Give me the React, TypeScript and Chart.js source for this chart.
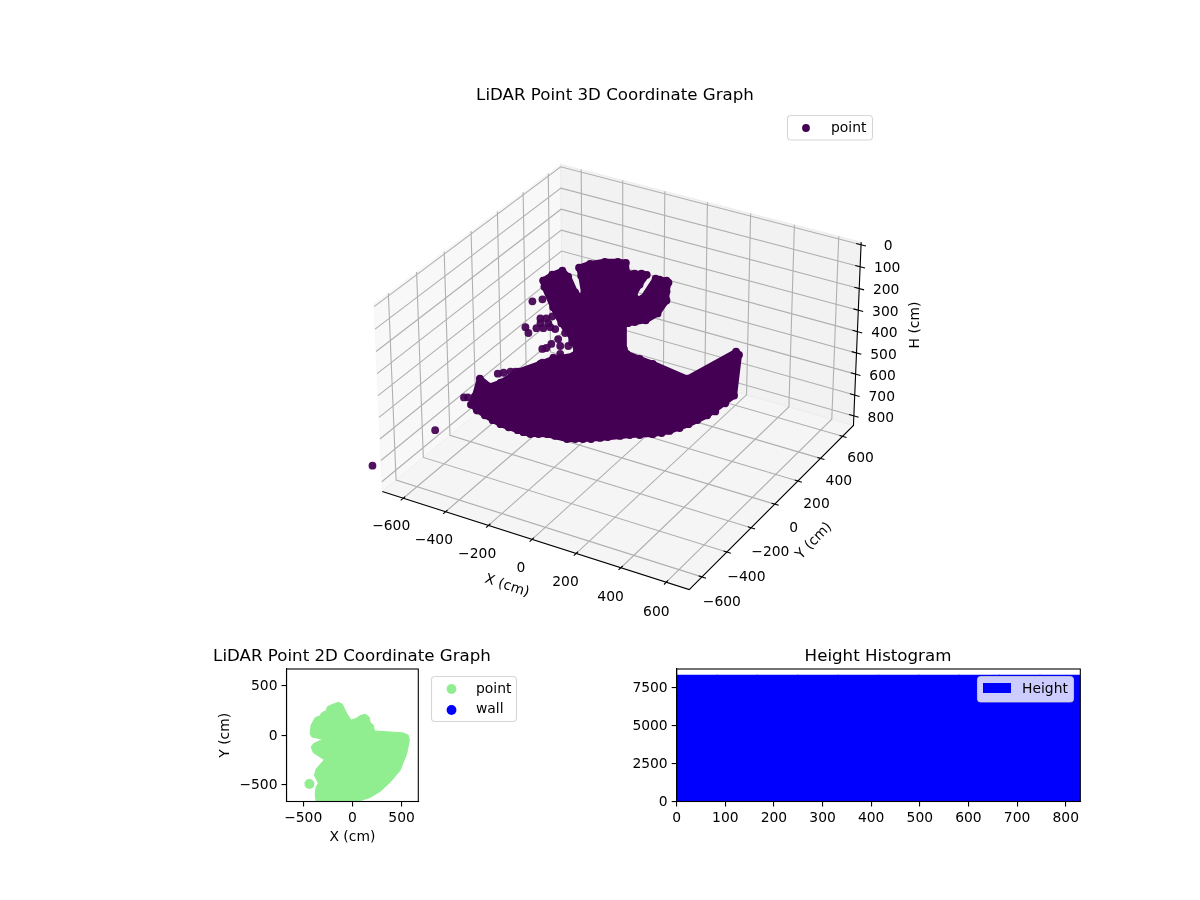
import React, { useEffect, useRef } from "react";
import { Chart, registerables } from "chart.js";

Chart.register(...registerables);

const FONT = "'DejaVu Sans'";
const TICK_SIZE = 13.89;
const TITLE_SIZE = 16.67;
const MINUS = "\u2212";

// ---------- 3D panel data ----------
const title3D = "LiDAR Point 3D Coordinate Graph";
const xTicks3D = [-600, -400, -200, 0, 200, 400, 600];
const yTicks3D = [-600, -400, -200, 0, 200, 400, 600];
const hTicks3D = [0, 100, 200, 300, 400, 500, 600, 700, 800];
const axisLimit = 700;
const hTop = -12;
const hBottom = 846;

// outer shell of the dense scan cloud (cm)
const shellX = [-358,-333,-302,-276,-236,-209,-204,-232,-247,-213,-164,-119,-90,-77,-49,-25,-6,-21,-31,-16,4,29,43,68,77,79,88,70,36,0,-23,-37,-11,4,54,104,239,380,393,417,344,288,229,174,96,-4,-62,-117,-190,-249,-297,-362,-425,-484,-479,-479,-437,-403,-352,-285,-245,-222,-179,-171,-201,-253,-297,-348];
const shellY = [-7,21,48,49,36,37,52,77,86,115,148,174,188,173,187,201,209,178,149,147,160,220,227,239,239,220,204,164,128,103,88,80,35,32,49,67,110,254,255,174,86,33,-16,-55,-103,-167,-203,-235,-266,-299,-318,-342,-358,-367,-345,-304,-298,-270,-215,-158,-123,-108,-78,-62,-49,-45,-34,-16];
const shellH = [118,98,84,104,159,180,163,101,73,60,53,53,56,91,94,94,98,132,166,183,180,111,115,118,125,156,187,232,256,262,266,266,355,372,390,407,458,365,376,517,585,616,640,651,654,664,668,668,651,651,637,616,585,548,520,458,486,472,434,407,390,386,379,362,317,266,211,139];

// lowest scan row
const rowX = [-458,-393,-331,-275,-221,-161,-89,-34,22,63,130,204,261,315,368,394];
const rowY = [-365,-351,-331,-310,-283,-253,-219,-187,-150,-124,-83,-36,9,58,109,143];
const rowH = [568,602,627,644,651,657,668,668,661,657,654,647,630,602,572,544];

// isolated returns
const strayX = [-515,-502,-422,-403,-380,-363,-375,-342,-330,-310,-291,-325,-298,-373,-357,-334,-310,-287,-268,-248,-230,-293,-280,-267,-234,-206,-197,-226,-246,-279,-582,-763];
const strayY = [-369,-361,-260,-246,-231,-221,-65,-42,-79,-67,-51,-87,-71,-124,-128,-104,-90,-74,-68,-79,-55,-128,-118,-101,-87,-71,-56,-101,-121,-152,-483,-670];
const strayH = [523,523,441,438,434,434,190,183,249,249,242,266,266,280,300,283,283,280,286,321,300,355,352,338,345,345,331,372,386,403,637,760];

// ---------- 2D panel data ----------
const title2D = "LiDAR Point 2D Coordinate Graph";
const pointOutlineX = [-369,-379,-369,-346,-386,-369,-285,-396,-420,-396,-302,-413,-430,-420,-379,-329,-312,-268,-254,-200,-142,-102,-58,-14,37,78,129,173,180,213,224,518,569,579,552,484,383,281,180,44];
const pointOutlineY = [-673,-595,-527,-483,-408,-340,-248,-177,-119,-85,-41,-17,17,102,177,197,228,248,289,313,333,313,221,153,170,197,214,180,129,102,44,24,0,-51,-187,-357,-476,-568,-629,-673];
const isolatedX = [-437];
const isolatedY = [-493];
const wallX: number[] = [];
const wallY: number[] = [];
const ticks2D = [-500, 0, 500];
const limit2D = 670;

// ---------- Histogram data ----------
const titleHist = "Height Histogram";
const binCentres = [41.5, 124.5, 207.5, 290.5, 373.5, 456.5, 539.5, 622.5, 705.5, 788.5];
const binCounts = [8330, 8330, 8330, 8330, 8330, 8330, 8330, 8330, 8330, 8330];
const histXTicks = [0, 100, 200, 300, 400, 500, 600, 700, 800];
const histYTicks = [0, 2500, 5000, 7500];
const histXMax = 830;
const histYMax = 8708;

// ---------- Projection (elev 30, azim -60, perspective) ----------
const HALF_XY = 0.6536;
const HALF_Z = 0.4;
const VIEW_DIST = 12;
const VIEW_SCALE = 270;
const VIEW_CX = 622;
const VIEW_CY = 366;

function project(X: number, Y: number, H: number) {
  const x = (X / axisLimit) * HALF_XY;
  const y = (Y / axisLimit) * HALF_XY;
  const z = HALF_Z - ((H - hTop) / (hBottom - hTop)) * 2 * HALF_Z;
  const u = 0.866 * x + 0.5 * y;
  const v = -0.25 * x + 0.433 * y + 0.866 * z;
  const w = 0.433 * x - 0.75 * y + 0.5 * z;
  const f = VIEW_DIST / (VIEW_DIST - w);
  return { x: VIEW_CX + VIEW_SCALE * f * u, y: VIEW_CY - VIEW_SCALE * f * v };
}

const GAP = { x: NaN, y: NaN };
const L = axisLimit;

function segs(list: number[][][]) {
  const out: { x: number; y: number }[] = [];
  list.forEach((s) => {
    s.forEach((p) => out.push(project(p[0], p[1], p[2])));
    out.push(GAP);
  });
  return out;
}
const poly = (pts: number[][]) => [...pts, pts[0]].map((p) => project(p[0], p[1], p[2]));

function gridSegments() {
  const s: number[][][] = [];
  xTicks3D.forEach((t) => {
    s.push([[t, -L, hBottom], [t, L, hBottom], [t, L, hTop]]);
  });
  yTicks3D.forEach((t) => {
    s.push([[L, t, hBottom], [-L, t, hBottom], [-L, t, hTop]]);
  });
  hTicks3D.forEach((t) => {
    s.push([[-L, -L, t], [-L, L, t], [L, L, t]]);
  });
  return s;
}
function tickSegments() {
  const s: number[][][] = [];
  xTicks3D.forEach((t) => s.push([[t, -L - 18, hBottom], [t, -L + 14, hBottom]]));
  yTicks3D.forEach((t) => s.push([[L + 18, t, hBottom], [L - 14, t, hBottom]]));
  hTicks3D.forEach((t) => s.push([[L - 22, L, t], [L + 22, L, t]]));
  return s;
}
const SOLID = [100000, 1];
const lineDs = (data: any[], color: string, width: number, order: number) => ({
  data, showLine: true, spanGaps: false, borderColor: color, borderWidth: width, borderDash: SOLID,
  pointRadius: 0, order, fill: false,
});
const paneDs = (pts: number[][], fillC: string, order: number) => ({
  data: poly(pts), showLine: true, borderColor: fillC, borderWidth: 1, borderDash: SOLID,
  backgroundColor: fillC, fill: "shape", pointRadius: 0, order,
});

function txt(ctx: CanvasRenderingContext2D, s: string, x: number, y: number, size = TICK_SIZE, rot = 0, align: CanvasTextAlign = "center") {
  ctx.save();
  ctx.translate(x, y + 1);
  ctx.rotate((rot * Math.PI) / 180);
  ctx.font = `${size}px ${FONT}`;
  ctx.fillStyle = "#000";
  ctx.textAlign = align;
  ctx.textBaseline = "middle";
  ctx.fillText(s, 0, 0);
  ctx.restore();
}
function legendFrame(ctx: CanvasRenderingContext2D, x: number, y: number, w: number, h: number) {
  ctx.save();
  ctx.beginPath();
  ctx.roundRect(x, y, w, h, 3.5);
  ctx.fillStyle = "rgba(255,255,255,0.8)";
  ctx.fill();
  ctx.strokeStyle = "rgba(204,204,204,0.8)";
  ctx.lineWidth = 1.1;
  ctx.stroke();
  ctx.restore();
}
function dot(ctx: CanvasRenderingContext2D, x: number, y: number, r: number, c: string) {
  ctx.save();
  ctx.beginPath();
  ctx.arc(x, y, r, 0, Math.PI * 2);
  ctx.fillStyle = c;
  ctx.fill();
  ctx.restore();
}
const fmt = (v: any) => String(v).replace("-", MINUS);

const labels3D = {
  id: "labels3D",
  afterDatasetsDraw(chart: any) {
    const c = chart.ctx;
    const sx = chart.scales.x, sy = chart.scales.y;
    const at = (X: number, Y: number, H: number) => {
      const p = project(X, Y, H);
      return { x: sx.getPixelForValue(p.x), y: sy.getPixelForValue(p.y) };
    };
    xTicks3D.forEach((t) => { const p = at(t, -L, hBottom); const k = t / 600; txt(c, fmt(t), p.x - 11 + k, p.y + 28 + k); });
    yTicks3D.forEach((t) => { const p = at(L, t, hBottom); const k = t / 600; txt(c, fmt(t), p.x + 19 - k, p.y + 23 - 2 * k); });
    hTicks3D.forEach((t) => { const p = at(L, L, t); txt(c, fmt(t), p.x + 27, p.y + 1); });
    txt(c, "X (cm)", 507, 585, TICK_SIZE, 18);
    txt(c, "Y (cm)", 814, 540, TICK_SIZE, -46);
    txt(c, "H (cm)", 915, 324, TICK_SIZE, -90);
    txt(c, title3D, 615, 95, TITLE_SIZE);
    legendFrame(c, 787.5, 115.5, 85, 24.5);
    dot(c, 806, 128, 3.9, "#440154");
    txt(c, "point", 831, 127, TICK_SIZE, 0, "left");
  },
};

const frame = {
  id: "frame",
  afterDatasetsDraw(chart: any) {
    const { left, top, width, height } = chart.chartArea;
    const c = chart.ctx;
    c.save();
    c.strokeStyle = "#000";
    c.lineWidth = 1.1;
    c.strokeRect(left, top, width, height);
    c.restore();
  },
};

const legend2D = {
  id: "legend2D",
  afterDraw(chart: any) {
    const c = chart.ctx;
    const ox = 184, oy = 640;
    txt(c, title2D, 352 - ox, 656 - oy, TITLE_SIZE);
    legendFrame(c, 431.5 - ox, 676.5 - oy, 85, 45);
    dot(c, 451.5 - ox, 689 - oy, 4.9, "#90ee90");
    dot(c, 451.5 - ox, 710 - oy, 4.9, "#0000ff");
    txt(c, "point", 476 - ox, 688 - oy, TICK_SIZE, 0, "left");
    txt(c, "wall", 476 - ox, 708.5 - oy, TICK_SIZE, 0, "left");
  },
};
const legendHist = {
  id: "legendHist",
  afterDraw(chart: any) {
    const c = chart.ctx;
    const ox = 620, oy = 640;
    txt(c, titleHist, 878 - ox, 656 - oy, TITLE_SIZE);
    legendFrame(c, 977.5 - ox, 676.5 - oy, 96, 25.5);
    c.fillStyle = "#0000ff";
    c.fillRect(983 - ox, 683 - oy, 28, 10);
    txt(c, "Height", 1022 - ox, 688 - oy, TICK_SIZE, 0, "left");
  },
};

const axisCommon = (vertical: boolean, min: number, max: number, tickValues: number[], fixed: (s: any) => void, titleText?: string, titlePad?: any) => ({
  type: "linear",
  min, max,
  afterFit: fixed,
  afterBuildTicks: (s: any) => { s.ticks = tickValues.map((value) => ({ value })); },
  border: { display: true, color: "#000", width: 1.1 },
  grid: { drawOnChartArea: false, drawTicks: true, tickLength: 5, color: "#000", lineWidth: 1.1, offset: false },
  ticks: {
    autoSkip: false, maxRotation: 0, minRotation: 0,
    padding: 4, labelOffset: vertical ? 1 : 0, color: "#000", font: { family: FONT, size: TICK_SIZE },
    callback: (v: any) => fmt(v),
  },
  title: titleText
    ? { display: true, text: titleText, color: "#000", font: { family: FONT, size: TICK_SIZE }, padding: titlePad }
    : { display: false },
});

export default function App() {
  const main = useRef<HTMLCanvasElement>(null);
  const two = useRef<HTMLCanvasElement>(null);
  const hist = useRef<HTMLCanvasElement>(null);

  useEffect(() => {
    const zip3 = (a: number[], b: number[], c: number[]) => a.map((v, i) => project(v, b[i], c[i]));
    const shell = zip3(shellX, shellY, shellH);
    const purple = "#440154";
    const c1 = new Chart(main.current!, {
      type: "scatter",
      data: {
        datasets: [
          paneDs([[-L, -L, hBottom], [-L, L, hBottom], [-L, L, hTop], [-L, -L, hTop]], "rgba(242,242,242,0.5)", 100),
          paneDs([[-L, L, hBottom], [L, L, hBottom], [L, L, hTop], [-L, L, hTop]], "rgba(230,230,230,0.5)", 99),
          paneDs([[-L, -L, hBottom], [L, -L, hBottom], [L, L, hBottom], [-L, L, hBottom]], "rgba(236,236,236,0.5)", 98),
          lineDs(segs(gridSegments()), "#b0b0b0", 1.1, 90),
          lineDs(segs(tickSegments()), "#000", 1.1, 80),
          lineDs(segs([[[-L, -L, hBottom], [L, -L, hBottom], [L, L, hBottom], [L, L, hTop]]]), "#000", 1.1, 79),
          {
            label: "point", data: [...shell, shell[0]], showLine: true, spanGaps: false,
            borderColor: purple, borderWidth: 6, borderJoinStyle: "round", borderDash: SOLID,
            backgroundColor: purple, fill: "shape",
            pointRadius: 3.9, pointBackgroundColor: purple, pointBorderWidth: 0, order: 10,
          },
          {
            label: "row", data: zip3(rowX, rowY, rowH),
            pointRadius: 3.9, backgroundColor: purple, pointBorderWidth: 0, order: 9,
          },
          {
            label: "stray", data: zip3(strayX, strayY, strayH),
            pointRadius: 3.9, backgroundColor: "rgba(68,1,84,0.93)", pointBorderWidth: 0, order: 8,
          },
        ] as any,
      },
      options: {
        animation: false, responsive: false, devicePixelRatio: 1, events: [],
        layout: { padding: 0 },
        scales: {
          x: { type: "linear", display: false, min: 0, max: 1200 },
          y: { type: "linear", display: false, min: 0, max: 900, reverse: true },
        },
        plugins: { legend: { display: false }, tooltip: { enabled: false } },
      },
      plugins: [labels3D],
    } as any);

    const green = "#90ee90";
    const outline = pointOutlineX.map((x, i) => ({ x, y: pointOutlineY[i] }));
    const c2 = new Chart(two.current!, {
      type: "scatter",
      data: {
        datasets: [
          {
            label: "point", data: [...outline, outline[0]], showLine: true, borderDash: SOLID,
            borderColor: green, borderWidth: 1, backgroundColor: green, fill: "shape", pointRadius: 0, order: 3,
          },
          {
            label: "point", data: isolatedX.map((x, i) => ({ x, y: isolatedY[i] })),
            pointRadius: 5, backgroundColor: green, pointBorderWidth: 0, order: 2,
          },
          {
            label: "wall", data: wallX.map((x, i) => ({ x, y: wallY[i] })),
            pointRadius: 5, backgroundColor: "#0000ff", order: 1,
          },
        ] as any,
      },
      options: {
        animation: false, responsive: false, devicePixelRatio: 1, events: [],
        layout: { padding: { left: 31.5, right: 101.7, top: 29, bottom: 0 } },
        scales: {
          x: axisCommon(false, -limit2D, limit2D, ticks2D, (s) => { s.height = 48.5; }, "X (cm)", { top: 0, bottom: 4.7 }),
          y: axisCommon(true, -limit2D, limit2D, ticks2D, (s) => { s.width = 71; }, "Y (cm)", { top: 2, bottom: 0 }),
        },
        plugins: { legend: { display: false }, tooltip: { enabled: false } },
      },
      plugins: [frame, legend2D],
    } as any);

    const c3 = new Chart(hist.current!, {
      type: "bar",
      data: {
        datasets: [
          {
            label: "Height", data: binCentres.map((x, i) => ({ x, y: binCounts[i] })),
            backgroundColor: "#0000ff", borderWidth: 0,
            categoryPercentage: 1, barPercentage: 1.03,
          },
        ] as any,
      },
      options: {
        animation: false, responsive: false, devicePixelRatio: 1, events: [],
        layout: { padding: { left: 6.7, right: 56.7, top: 29, bottom: 0 } },
        scales: {
          x: { ...axisCommon(false, 0, histXMax, histXTicks, (s) => { s.height = 28.5; }), offset: false },
          y: axisCommon(true, 0, histYMax, histYTicks, (s) => { s.width = 50; }),
        },
        plugins: { legend: { display: false }, tooltip: { enabled: false } },
      },
      plugins: [frame, legendHist],
    } as any);

    return () => { c1.destroy(); c2.destroy(); c3.destroy(); };
  }, []);

  const abs = (left: number, top: number): React.CSSProperties => ({ position: "absolute", left, top, display: "block" });
  return (
    <div style={{ position: "absolute", left: 0, top: 0, width: 1200, height: 900, background: "#fff" }}>
      <canvas ref={main} width={1200} height={900} style={abs(0, 0)} />
      <canvas ref={two} width={336} height={210} style={abs(184, 640)} />
      <canvas ref={hist} width={517} height={190} style={abs(620, 640)} />
    </div>
  );
}
